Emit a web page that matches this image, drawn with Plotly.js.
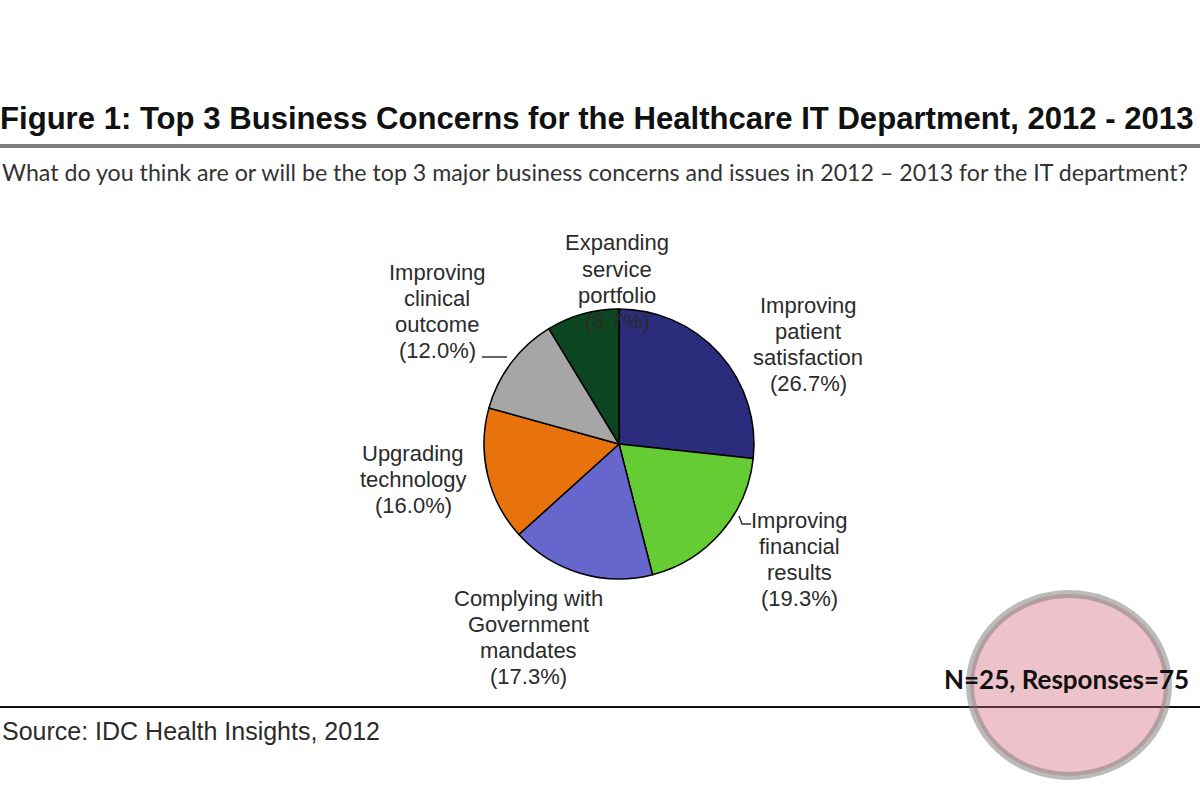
<!DOCTYPE html>
<html>
<head>
<meta charset="utf-8">
<script src="https://cdn.plot.ly/plotly-3.0.1.min.js"></script>
<style>html,body{margin:0;padding:0;background:#fff;}#chart{width:1200px;height:800px;}</style>
</head>
<body>
<div id="chart"></div>
<script>
// ---- data ----
var categories = [
  "Improving patient satisfaction",
  "Improving financial results",
  "Complying with Government mandates",
  "Upgrading technology",
  "Improving clinical outcome",
  "Expanding service portfolio"
];
var values = [26.7, 19.3, 17.3, 16.0, 12.0, 8.7];
var sliceColors = ["#2c2c7c", "#66cc33", "#6666cc", "#e8720c", "#a6a6a6", "#0b4620"];

// ---- label layout (text wrapping + pixel positions, not data) ----
var labelLines = [
  ["Improving", "patient", "satisfaction"],
  ["Improving", "financial", "results"],
  ["Complying with", "Government", "mandates"],
  ["Upgrading", "technology"],
  ["Improving", "clinical", "outcome"],
  ["Expanding", "service", "portfolio"]
];
var labelX = [808, 799, 528, 413, 437, 617];
var labelY0 = [305, 520, 598, 453, 272, 243];
var lineStep = 26.3;

var W = 1200, H = 800;
function px(x) { return x / W; }
function py(y) { return 1 - y / H; }

var cx = 619, cy = 444, r = 135;

var annotations = [];
var textColor = "#2b2b2b";
for (var i = 0; i < categories.length; i++) {
  var lines = labelLines[i].concat(["(" + values[i].toFixed(1) + "%)"]);
  for (var j = 0; j < lines.length; j++) {
    annotations.push({
      xref: "paper", yref: "paper",
      x: px(labelX[i]), y: py(labelY0[i] + j * lineStep),
      xanchor: "center", yanchor: "middle",
      text: lines[j], showarrow: false,
      font: {family: "Liberation Sans, Arial, sans-serif", size: 22, color: textColor}
    });
  }
}

annotations.push({
  xref: "paper", yref: "paper", x: px(0), y: py(172),
  xanchor: "left", yanchor: "middle", showarrow: false,
  text: "What do you think are or will be the top 3 major business concerns and issues in 2012 \u2013 2013 for the IT department?",
  font: {family: "Lato, sans-serif", size: 23.2, color: "#333333"}
});
annotations.push({
  xref: "paper", yref: "paper", x: px(0), y: py(731),
  xanchor: "left", yanchor: "middle", showarrow: false,
  text: "Source: IDC Health Insights, 2012",
  font: {family: "Liberation Sans, Arial, sans-serif", size: 25, color: "#2b2b2b"}
});
annotations.push({
  xref: "paper", yref: "paper", x: px(942), y: py(679),
  xanchor: "left", yanchor: "middle", showarrow: false,
  text: "<b>N=25, Responses=75</b>",
  font: {family: "Lato, sans-serif", size: 26, color: "#111111"}
});

var shapes = [
  {type: "line", xref: "paper", yref: "paper", x0: 0, x1: 1, y0: py(146), y1: py(146),
   line: {color: "#7f7f7f", width: 4}},
  {type: "line", xref: "paper", yref: "paper", x0: 0, x1: 1, y0: py(707), y1: py(707),
   line: {color: "#111111", width: 2}},
  {type: "line", xref: "paper", yref: "paper", x0: px(482), x1: px(507), y0: py(357), y1: py(357),
   line: {color: "#333333", width: 1.5}},
  {type: "path", xref: "paper", yref: "paper",
   path: "M " + px(739) + " " + py(516) + " L " + px(742) + " " + py(524) + " L " + px(751) + " " + py(524),
   line: {color: "#333333", width: 1.5}},
  // watermark disc
  {type: "circle", xref: "paper", yref: "paper", x0: px(970), x1: px(1168), y0: py(776), y1: py(594),
   fillcolor: "rgba(210,95,115,0.38)", line: {color: "rgba(120,120,120,0.5)", width: 8}, layer: "above"}
];

var trace = {
  type: "pie",
  labels: categories,
  values: values,
  sort: false,
  direction: "clockwise",
  rotation: 0,
  marker: {colors: sliceColors, line: {color: "#000000", width: 1.5}},
  textinfo: "none",
  hoverinfo: "label+percent",
  showlegend: false,
  domain: {x: [px(cx - r), px(cx + r)], y: [py(cy + r), py(cy - r)]}
};

var layout = {
  width: W, height: H,
  margin: {l: 0, r: 0, t: 0, b: 0, pad: 0},
  paper_bgcolor: "#ffffff",
  plot_bgcolor: "#ffffff",
  title: {
    text: "<b>Figure 1: Top 3 Business Concerns for the Healthcare IT Department, 2012 - 2013</b>",
    x: 0, xref: "container", xanchor: "left",
    y: 1 - 118 / H, yref: "container", yanchor: "middle",
    pad: {l: 0, t: 0, r: 0, b: 0},
    font: {family: "Liberation Sans, Arial, sans-serif", size: 31.1, color: "#111111"}
  },
  annotations: annotations,
  shapes: shapes,
  showlegend: false
};

Plotly.newPlot("chart", [trace], layout, {displayModeBar: false, staticPlot: true});
</script>
</body>
</html>
